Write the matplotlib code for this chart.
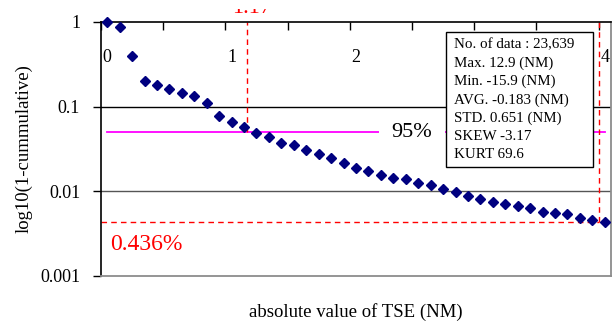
import numpy as np
import matplotlib
matplotlib.use("Agg")
from matplotlib import pyplot as plt
from matplotlib import transforms
from matplotlib.patches import Rectangle
from matplotlib.ticker import FixedLocator, NullLocator

plt.rcParams['font.family'] = ['Liberation Serif', 'DejaVu Serif']

# |TSE| bins (NM) and 1 - cumulative fraction
tse = [0.05, 0.15, 0.25, 0.35, 0.45, 0.55, 0.65, 0.75, 0.85, 0.95,
       1.05, 1.15, 1.25, 1.35, 1.45, 1.55, 1.65, 1.75, 1.85, 1.95,
       2.05, 2.15, 2.25, 2.35, 2.45, 2.55, 2.65, 2.75, 2.85, 2.95,
       3.05, 3.15, 3.25, 3.35, 3.45, 3.55, 3.65, 3.75, 3.85, 3.95, 4.05]
excedencia = [1.0, 0.88, 0.40, 0.20, 0.18, 0.16, 0.146, 0.133, 0.11, 0.078,
              0.0667, 0.0576, 0.0493, 0.0436, 0.0373, 0.035, 0.0308, 0.0274, 0.0246, 0.0215,
              0.0187, 0.0175, 0.0156, 0.0144, 0.0139, 0.0125, 0.0119, 0.0106, 0.00975, 0.0089,
              0.0081, 0.0075, 0.00705, 0.00673, 0.00642, 0.00576, 0.0056, 0.00537, 0.00481, 0.0046,
              0.00439]

nivel95 = 0.05
x95 = 1.17
nivel_4nm = 0.00436
x_4nm = 4.0

y_ticks = [1, 0.1, 0.01, 0.001]
y_labels = ['1', '0.1', '0.01', '0.001']
x_labels = [0, 1, 2, 4]

estatisticas = ['No. of data : 23,639',
                'Max. 12.9 (NM)',
                'Min. -15.9 (NM)',
                'AVG. -0.183 (NM)',
                'STD. 0.651 (NM)',
                'SKEW -3.17',
                'KURT 69.6']

fig = plt.figure(figsize=(6.16, 3.29), dpi=100)
ax = fig.add_axes([101 / 616, 1 - 276 / 329, 510 / 616, 254 / 329])

ax.set_yscale('log')
ax.set_ylim(0.001, 1)
ax.set_xlim(0, 4.1)

# eixo x no topo, ticks para dentro
ax.xaxis.tick_top()
ax.set_xticks(np.arange(0, 4.01, 0.5))
ax.tick_params(axis='x', direction='in', length=6, width=1, labeltop=False, color='black')
ax.yaxis.set_major_locator(FixedLocator(y_ticks))
ax.yaxis.set_minor_locator(NullLocator())
ax.set_yticklabels(y_labels)
ax.tick_params(axis='y', direction='out', length=6, width=1, pad=9, labelsize=13)

ax.spines['top'].set_color('black')
ax.spines['top'].set_linewidth(1.2)
ax.spines['left'].set_color('black')
ax.spines['left'].set_linewidth(1.2)
for lado in ['bottom', 'right']:
    ax.spines[lado].set_color('#8c8c8c')
    ax.spines[lado].set_linewidth(1.3)

ax.axhline(0.1, color='black', lw=1, zorder=1)
ax.axhline(0.01, color='#555555', lw=1, zorder=1)

trans = transforms.blended_transform_factory(ax.transData, ax.transAxes)
for v in x_labels:
    ax.text(v + 0.015, 1 - 36 / 254, str(v), transform=trans, ha='left', va='center',
            fontsize=13, zorder=2)

# linhas de referencia
ax.plot([0.05, 4.05], [nivel95, nivel95], color='#ff00ff', lw=1.3, zorder=2)
ax.plot([x95, x95], [nivel95, 1], color='red', lw=1, ls=(0, (4, 3)), zorder=2)
ax.plot([x_4nm, x_4nm], [nivel_4nm, 1], color='red', lw=1, ls=(0, (4, 3)), zorder=2)
ax.plot([0, x_4nm], [nivel_4nm, nivel_4nm], color='red', lw=1, ls=(0, (4, 3)), zorder=2)

ax.plot(tse, excedencia, 'D', color='#000080', ms=5, mec='#000080', clip_on=False, zorder=4)

ax.text(2.5, nivel95, '95%', ha='center', va='center', fontsize=16, zorder=3,
        bbox=dict(facecolor='white', edgecolor='none', pad=9))
ax.text(0.07, 0.00233, '0.436%', color='red', ha='left', va='center', fontsize=17, zorder=3)

# rotulo 1.17 acima do eixo, so a parte de baixo aparece
t117 = ax.text(x95 + 0.04, 1 + 9 / 254, '1.17', transform=trans, color='red', ha='center',
               va='baseline', fontsize=16)
t117.set_clip_box(transforms.TransformedBbox(
    transforms.Bbox.from_extents(0, 1 - 14 / 329, 1, 1 - 9 / 329), fig.transFigure))
t117.set_clip_on(True)

# caixa com estatisticas
ax.add_patch(Rectangle(((446 - 101) / 510, 1 - (167 - 22) / 254), 147 / 510, 135 / 254,
                       transform=ax.transAxes, facecolor='white', edgecolor='black',
                       lw=1, zorder=5))
for i, linha in enumerate(estatisticas):
    ax.text((454 - 101) / 510, 1 - (45 - 22 + 18.3 * i) / 254, linha, transform=ax.transAxes,
            ha='left', va='center', fontsize=10.8, zorder=6)

ax.set_xlabel('absolute value of TSE (NM)', fontsize=13.5, va='center')
ax.xaxis.set_label_coords(0.5, -(312 - 276) / 254)
ax.set_ylabel('log10(1-cummulative)', fontsize=13.5)
ax.yaxis.set_label_coords(-(101 - 33) / 510, 0.5)

fig.savefig('out.png', dpi=100)
